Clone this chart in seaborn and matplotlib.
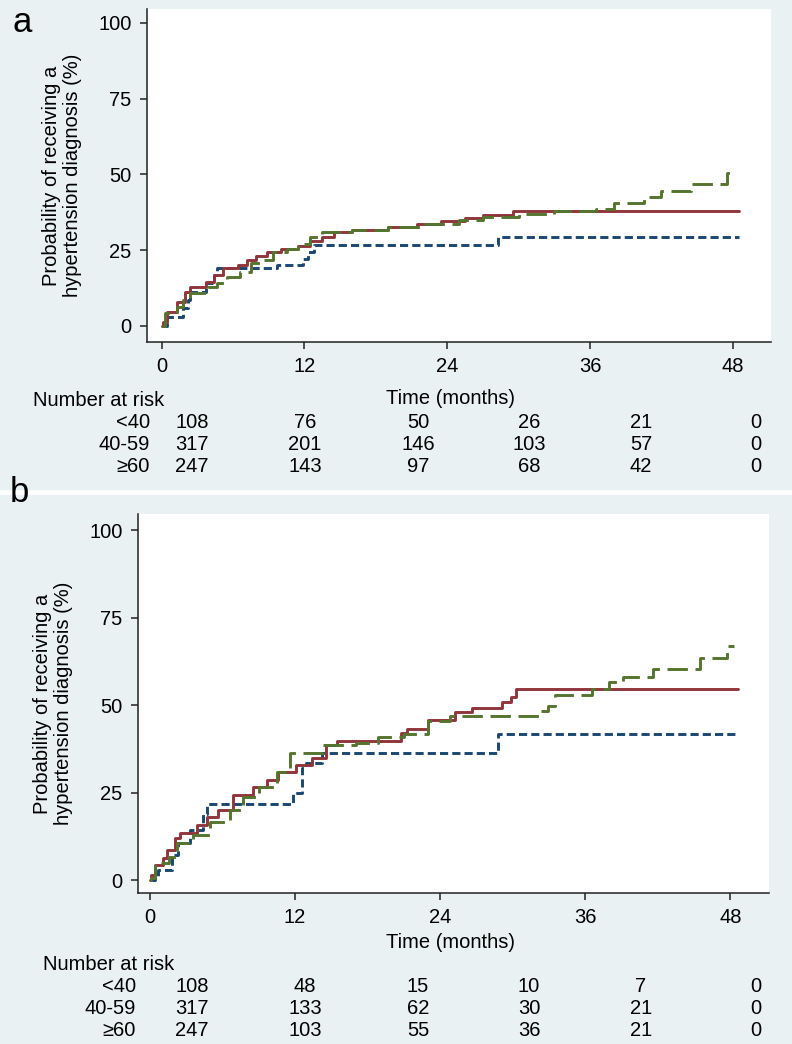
import numpy as np
import pandas as pd
import matplotlib
matplotlib.use("Agg")
import matplotlib.pyplot as plt
import seaborn as sns
from matplotlib.patches import Rectangle

# ---- data: Kaplan-Meier style failure curves (months, %) ----
groups = ["<40", "40-59", "\u226560"]

# panel a
a_lt40_t = [0, 0.5, 1.8, 2.2, 2.4, 3.7, 4.4, 4.7, 9.7, 11.9, 12.3, 12.8, 28.3, 48.5]
a_lt40_p = [0, 3, 5.9, 8.6, 11.2, 14.1, 16.8, 19, 20, 22, 24.5, 26.7, 29.2, 29.2]
a_4059_t = [0, 0.1, 0.5, 1.3, 2.0, 2.4, 3.7, 4.4, 5.2, 6.4, 7.2, 7.9, 8.9, 10, 11.5, 12.5,
            13.5, 14.5, 16, 19, 21.5, 23.5, 25.5, 27, 29.5, 48.5]
a_4059_p = [0, 1.4, 4.7, 8, 11.3, 13, 14.6, 16.8, 19, 20.1, 21.8, 23.1, 24.5, 25.5, 26.5, 28,
            29.5, 31, 31.5, 32.5, 33.5, 34.5, 35.5, 36.5, 37.8, 37.8]
a_ge60_t = [0, 0.3, 1.3, 1.8, 2.4, 3.9, 4.7, 5.5, 6.6, 7.5, 8.3, 9.4, 10.5, 11.5, 12.5, 13.5,
            16, 19, 22, 25, 27, 30, 33, 36.5, 38, 40.5, 42, 44.5, 47.5, 48.2]
a_ge60_p = [0, 4.3, 6.3, 8.6, 10.9, 12.9, 14.1, 16.1, 17.8, 20.7, 21.7, 24.4, 25.5, 27, 29.5, 31,
            31.5, 32.5, 33.5, 35, 36, 37, 38, 38.5, 40.5, 42.5, 44.5, 47, 50.5, 50.5]

# panel b
b_lt40_t = [0, 0.4, 0.7, 1.8, 2.3, 3.3, 4.4, 4.7, 11.8, 12.6, 12.9, 14.2, 28.8, 48.5]
b_lt40_p = [0, 0.5, 2.9, 7.1, 10.5, 14.3, 19, 21.7, 25, 32, 33.4, 36.3, 41.7, 41.7]
b_4059_t = [0, 0.1, 0.4, 1.1, 1.4, 2.1, 2.5, 3.9, 4.7, 5.6, 6.9, 8.5, 9.7, 10.6, 12.1, 13.4,
            14.6, 15.5, 20.8, 21.3, 23.0, 25.2, 26.6, 29.1, 29.9, 30.3, 48.6]
b_4059_p = [0, 1.5, 4.3, 6.3, 8.6, 12, 13.4, 15.7, 18, 20, 24.3, 26.6, 28.6, 30.9, 32.9, 34.9,
            38.6, 39.8, 41.9, 43.1, 45.7, 48.1, 49.2, 50.9, 52.4, 54.5, 54.5]
b_ge60_t = [0, 0.1, 0.4, 1.6, 2.2, 3.6, 5.0, 6.6, 7.7, 9.0, 10.5, 11.6, 14.3, 17.0, 18.9, 21.0,
            23.0, 24.8, 32.2, 32.9, 33.5, 36.6, 38.0, 39.1, 41.6, 45.5, 47.7, 48.3]
b_ge60_p = [0, 0.5, 4.9, 6.7, 10.5, 12.9, 16.5, 20, 23.8, 26.6, 30.9, 36.2, 38.5, 39.2, 40.9, 41.7,
            45.5, 46.9, 48.4, 49.7, 52.9, 54.5, 56.5, 58, 60.4, 63.5, 66.9, 66.9]

# number at risk
a_risk_lt40 = [108, 76, 50, 26, 21, 0]
a_risk_4059 = [317, 201, 146, 103, 57, 0]
a_risk_ge60 = [247, 143, 97, 68, 42, 0]
b_risk_lt40 = [108, 48, 15, 10, 7, 0]
b_risk_4059 = [317, 133, 62, 30, 21, 0]
b_risk_ge60 = [247, 103, 55, 36, 21, 0]

x_ticks = [0, 12, 24, 36, 48]
y_ticks = [0, 25, 50, 75, 100]

# ---- style ----
sns.set_style("ticks")
plt.rcParams["font.family"] = ["Liberation Sans", "DejaVu Sans"]
plt.rcParams["font.size"] = 14.5
plt.rcParams["text.color"] = "black"
plt.rcParams["axes.labelcolor"] = "black"
plt.rcParams["xtick.color"] = "black"
plt.rcParams["ytick.color"] = "black"

BG = "#eaf1f3"
colors = ["#1a476f", "#90353b", "#55752f"]
styles = [(0, (2.8, 1.4)), "-", (0, (7, 2.6))]
FS = 14.5

W, H = 792, 1044
fig = plt.figure(figsize=(W / 100, H / 100), dpi=100)


def fx(x):
    return x / W


def fy(y):
    return 1 - y / H


# panel backgrounds
fig.patches.append(Rectangle((0, fy(489)), fx(791), 489 / H, transform=fig.transFigure,
                             color=BG, zorder=-10))
fig.patches.append(Rectangle((0, 0), fx(791), fy(495), transform=fig.transFigure,
                             color=BG, zorder=-10))


def km_panel(box, xlim, ylim, curves):
    left, top, right, bottom = box
    ax = fig.add_axes([fx(left), fy(bottom), fx(right - left), (bottom - top) / H])
    ax.set_facecolor("white")
    for (t, p), c, ls in zip(curves, colors, styles):
        df = pd.DataFrame({"t": t, "p": p})
        sns.lineplot(data=df, x="t", y="p", ax=ax, color=c, linestyle=ls, lw=2.1,
                     drawstyle="steps-post", estimator=None, sort=False)
    ax.set_xlim(*xlim)
    ax.set_ylim(*ylim)
    ax.set_xticks(x_ticks)
    ax.set_yticks(y_ticks)
    ax.set_xlabel("")
    ax.set_ylabel("Probability of receiving a\nhypertension diagnosis (%)", fontsize=FS,
                  labelpad=12, linespacing=1.1)
    sns.despine(ax=ax)
    for s in ["left", "bottom"]:
        ax.spines[s].set_linewidth(1.1)
        ax.spines[s].set_color("#222222")
    ax.tick_params(length=5, width=1.1, pad=6, labelsize=FS, color="#222222")
    return ax


ax_a = km_panel((147, 9, 771, 342), (-1.22, 51.2), (-5.3, 104.6),
                [(a_lt40_t, a_lt40_p), (a_4059_t, a_4059_p), (a_ge60_t, a_ge60_p)])
ax_b = km_panel((138, 514, 769, 893), (-0.99, 51.2), (-3.7, 104.6),
                [(b_lt40_t, b_lt40_p), (b_4059_t, b_4059_p), (b_ge60_t, b_ge60_p)])

fig.text(fx(12), fy(22), "a", fontsize=25, va="center", ha="left")
fig.text(fx(10), fy(493), "b", fontsize=25, va="center", ha="left")

col_x = [192, 305, 418, 529, 641, 756]


def risk_table(time_y, head_x, head_y, lab_x, row_y, rows):
    fig.text(fx(450), fy(time_y), "Time (months)", ha="center", va="center", fontsize=FS)
    fig.text(fx(head_x), fy(head_y), "Number at risk", ha="left", va="center", fontsize=FS)
    for g, vals, y in zip(groups, rows, row_y):
        fig.text(fx(lab_x), fy(y), g, ha="right", va="center", fontsize=FS)
        for x, v in zip(col_x, vals):
            fig.text(fx(x), fy(y), str(v), ha="center", va="center", fontsize=FS)


risk_table(399, 33, 401, 150, [422, 445, 467], [a_risk_lt40, a_risk_4059, a_risk_ge60])
risk_table(943, 43, 965, 136, [987, 1009, 1031], [b_risk_lt40, b_risk_4059, b_risk_ge60])

fig.savefig("out.png", dpi=100, facecolor="white")
